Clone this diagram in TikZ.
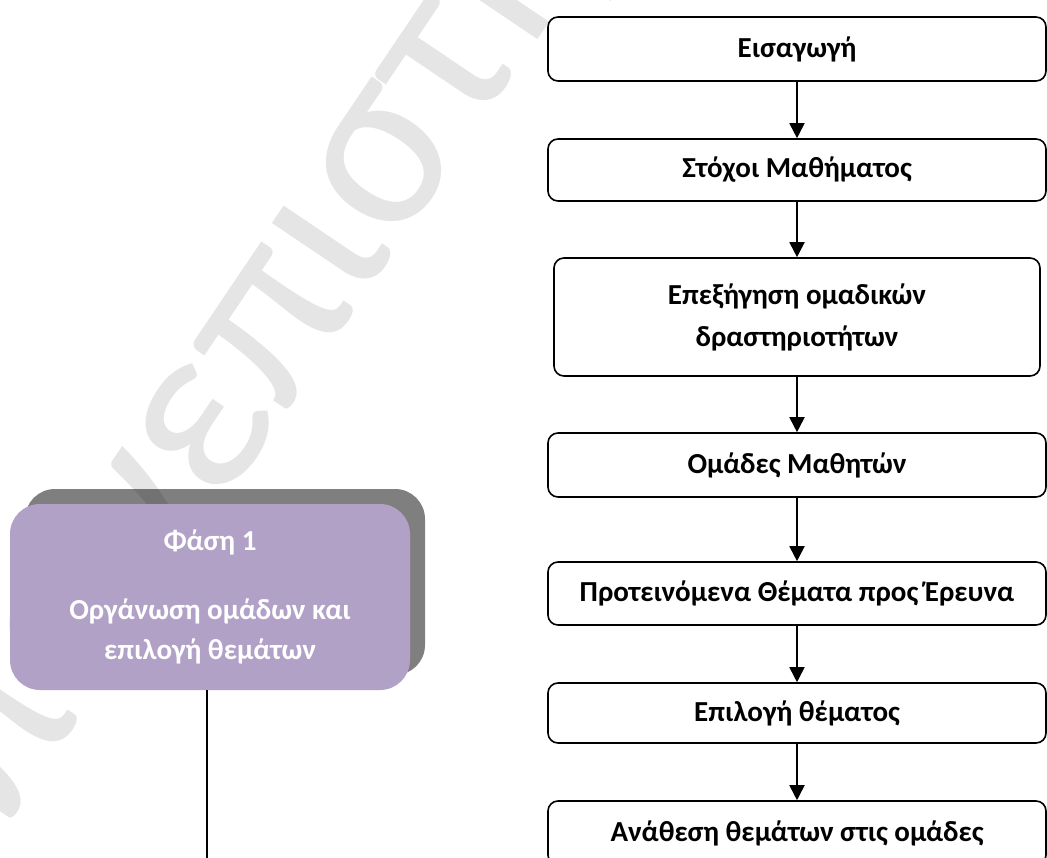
\documentclass[tikz,border=0pt]{standalone}
\usepackage{fontspec}
\setmainfont{Carlito}
\newfontfamily\wmfont{Carlito}
\usetikzlibrary{arrows.meta,shadows}
\definecolor{phasepurple}{HTML}{B2A1C7}
\begin{document}
\begin{tikzpicture}[x=1pt,y=-1pt,
  flowbox/.style={draw=black, line width=1.6pt, rounded corners=10pt, fill=white,
    minimum width=498pt, inner sep=0pt, align=center,
    font=\fontsize{29}{42}\selectfont\bfseries},
  arr/.style={line width=1.8pt, -{Triangle[width=15pt,length=15pt]}},
  phase/.style={fill=phasepurple, rounded corners=30pt, minimum width=400pt,
    minimum height=186pt, inner sep=0pt, align=center, text=white,
    font=\fontsize{29}{40}\selectfont\bfseries,
    drop shadow={shadow xshift=15pt, shadow yshift=15pt, shadow scale=1, fill=black, opacity=0.5}},
  wm/.style={text=black!10, inner sep=0pt, rotate=56,
    font=\wmfont\fontsize{245}{245}\selectfont}
]
\useasboundingbox (0,0) rectangle (1047,858);
\clip (0,0) rectangle (1047,858);
\fill[white] (0,0) rectangle (1047,858);

% watermark
\coordinate (wmp) at (284,416);
\node[wm, anchor=base east] (wm1) at (wmp) {πανε};
\node[wm, anchor=base west] (wm2) at (wmp) {πιστήμιο};

% right flow
\node[flowbox, minimum height=64pt] (b1) at (797,49) {Εισαγωγή};
\node[flowbox, minimum height=62pt] (b2) at (797,170) {Στόχοι Μαθήματος};
\node[flowbox, minimum height=118pt, minimum width=486pt] (b3) at (797,317) {Επεξήγηση ομαδικών\\δραστηριοτήτων};
\node[flowbox, minimum height=64pt] (b4) at (797,465) {Ομάδες Μαθητών};
\node[flowbox, minimum height=63pt] (b5) at (797,593.5) {Προτεινόμενα Θέματα προς Έρευνα};
\node[flowbox, minimum height=60pt] (b6) at (797,713) {Επιλογή θέματος};
\node[flowbox, minimum height=64pt] (b7) at (797,833) {Ανάθεση θεμάτων στις ομάδες};

\draw[arr] (b1) -- (b2);
\draw[arr] (b2) -- (b3);
\draw[arr] (b3) -- (b4);
\draw[arr] (b4) -- (b5);
\draw[arr] (b5) -- (b6);
\draw[arr] (b6) -- (b7);

% left phase box
\node[phase] (ph) at (210,597) {Φάση 1\\[29pt]Οργάνωση ομάδων και\\επιλογή θεμάτων};
\coordinate (tail) at (207,870);
\draw[line width=1.4pt] (ph.south -| tail) -- (tail);
\end{tikzpicture}
\end{document}
